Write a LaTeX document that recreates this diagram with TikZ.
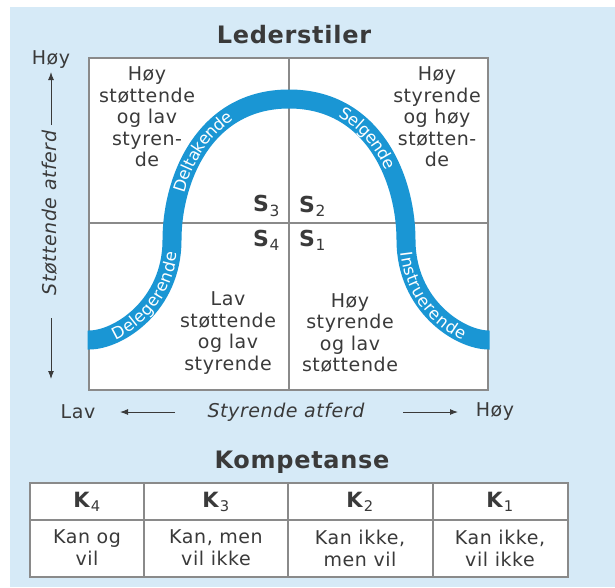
\documentclass[tikz,border=0pt]{standalone}
\usepackage{fontspec}
\setmainfont{DejaVu Sans}[LetterSpace=3]
\usetikzlibrary{decorations.text,arrows.meta}
\definecolor{bg}{HTML}{D6EAF7}
\definecolor{bandc}{HTML}{1A96D4}
\definecolor{gridc}{HTML}{8A8A8A}
\definecolor{txt}{HTML}{3A3A3A}
\newcommand\bandfont{\fontsize{16.5}{16.5}\selectfont\color{white}}
\begin{document}
\begin{tikzpicture}[x=1pt,y=1pt,
  every node/.style={text=txt, inner sep=0pt},
  quad/.style={align=center, font=\fontsize{19}{21.5}\selectfont},
  axis/.style={font=\fontsize{19}{21}\selectfont},
  axisit/.style={font=\fontsize{19}{21}\selectfont\itshape},
  title/.style={font=\fontsize{24}{26}\selectfont\bfseries},
  slab/.style={font=\fontsize{22}{23}\selectfont},
  cell/.style={align=center, font=\fontsize{19}{22}\selectfont},
  khead/.style={font=\fontsize{21}{22}\selectfont},
  gline/.style={draw=gridc, line width=2.5},
  axarrow/.style={draw=txt, line width=1, -{Latex[length=8pt,width=6pt]}},
  bandtext/.style={decorate, decoration={text along path, text={|\bandfont|#1}, raise=-6pt}}
]
\useasboundingbox (0,0) rectangle (615,-587);
\fill[bg] (10,-7) rectangle (615,-587);

% title
\node[title] (t1) at (294,-35) {Lederstiler};

% grid
\fill[white] (89,-58) rectangle (488,-390);
\draw[gline] (289,-58) -- (289,-390);
\draw[gline] (89,-223) -- (488,-223);
\draw[gline] (89,-58) rectangle (488,-390);
\begin{scope}
\clip (87.5,-58) rectangle (489.5,-390);
\draw[bandc, line width=19]
  (86,-340) -- (89,-340) .. controls (119,-340) and (172,-305) .. (172,-240)
  .. controls (172,-180) and (204,-99) .. (289,-99)
  .. controls (374,-99) and (406,-180) .. (406,-240)
  .. controls (406,-305) and (459,-340) .. (489,-340) -- (492,-340);
\end{scope}

% band texts
\path[bandtext=Delegerende, decoration={text align={right, right indent=12pt}}]
  (89,-340) .. controls (119,-340) and (172,-305) .. (172,-240);
\path[bandtext=Deltakende, decoration={text align={left, left indent=49pt}}]
  (172,-240) .. controls (172,-180) and (204,-99) .. (289,-99);
\path[bandtext=Selgende, decoration={text align={left, left indent=54pt}}]
  (289,-99) .. controls (374,-99) and (406,-180) .. (406,-240);
\path[bandtext=Instruerende, decoration={text align={left, left indent=12pt}}]
  (406,-240) .. controls (406,-305) and (459,-340) .. (489,-340);

% quadrant texts
\node[quad] (q3) at (147,-117) {Høy\\støttende\\og lav\\styren-\\de};
\node[quad] (q2) at (437,-117) {Høy\\styrende\\og høy\\støtten-\\de};
\node[quad] (q4) at (228,-333) {Lav\\støttende\\og lav\\styrende};
\node[quad] (q1) at (350,-333) {Høy\\styrende\\og lav\\støttende};

\node[slab, anchor=east] (s3) at (280,-206) {\textbf{S}\textsubscript{3}};
\node[slab, anchor=west] (s2) at (299,-206) {\textbf{S}\textsubscript{2}};
\node[slab, anchor=east] (s4) at (280,-240) {\textbf{S}\textsubscript{4}};
\node[slab, anchor=west] (s1) at (299,-240) {\textbf{S}\textsubscript{1}};

% y axis
\node[axis] (yh) at (51,-60) {Høy};
\node[axisit, rotate=90] (yl) at (50,-213) {Støttende atferd};
\coordinate (ya1) at (51,-125); \coordinate (ya2) at (51,-72);
\coordinate (yb1) at (51,-318); \coordinate (yb2) at (51,-379);
\draw[axarrow] (ya1) -- (ya2);
\draw[axarrow] (yb1) -- (yb2);

% x axis
\node[axis] (xl) at (78,-412) {Lav};
\node[axisit] (xt) at (286,-412) {Styrende atferd};
\node[axis] (xh) at (495,-412) {Høy};
\coordinate (xa1) at (175,-412); \coordinate (xa2) at (120,-412);
\coordinate (xb1) at (403,-412); \coordinate (xb2) at (458,-412);
\draw[axarrow] (xa1) -- (xa2);
\draw[axarrow] (xb1) -- (xb2);

% competence table
\node[title] (t2) at (302,-462) {Kompetanse};
\fill[white] (30,-483) rectangle (568,-577);
\draw[gline] (30,-520) -- (568,-520);
\draw[gline] (144,-483) -- (144,-577);
\draw[gline] (288,-483) -- (288,-577);
\draw[gline] (433,-483) -- (433,-577);
\draw[gline] (30,-483) rectangle (568,-577);

\node[khead] (k4) at (87,-502) {\textbf{K}\textsubscript{4}};
\node[khead] (k3) at (216,-502) {\textbf{K}\textsubscript{3}};
\node[khead] (k2) at (360,-502) {\textbf{K}\textsubscript{2}};
\node[khead] (k1) at (500,-502) {\textbf{K}\textsubscript{1}};
\node[cell] (d4) at (87,-548) {Kan og\\vil};
\node[cell] (d3) at (216,-548) {Kan, men\\vil ikke};
\node[cell] (d2) at (360,-548) {Kan ikke,\\men vil};
\node[cell] (d1) at (500,-548) {Kan ikke,\\vil ikke};
\end{tikzpicture}
\end{document}
